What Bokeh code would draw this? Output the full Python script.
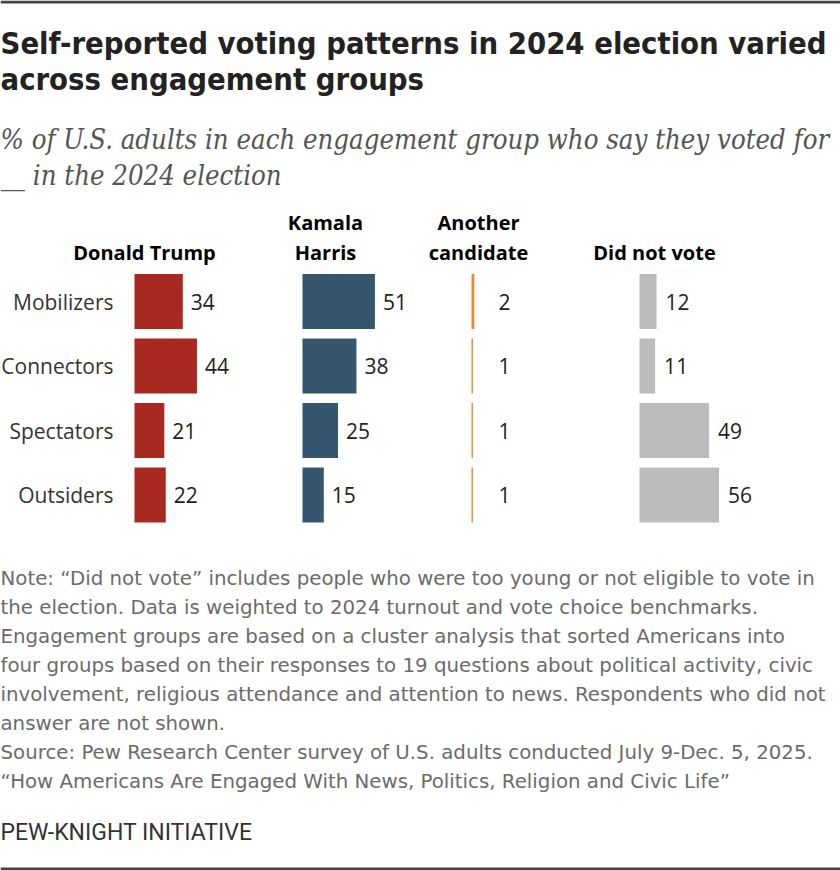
from bokeh.plotting import figure
from bokeh.models import Range1d, ColumnDataSource
from bokeh.core.properties import value
from bokeh.embed import file_html
from bokeh.resources import INLINE

# ---------------- data ----------------
groups = ["Mobilizers", "Connectors", "Spectators", "Outsiders"]
trump = [34, 44, 21, 22]
harris = [51, 38, 25, 15]
another = [2, 1, 1, 1]
did_not_vote = [12, 11, 49, 56]
series_headers = [["Donald Trump"], ["Kamala", "Harris"], ["Another", "candidate"], ["Did not vote"]]

title_lines = ["Self-reported voting patterns in 2024 election varied",
               "across engagement groups"]
subtitle_lines = ["% of U.S. adults in each engagement group who say they voted for",
                  "__ in the 2024 election"]
note_lines = [
    "Note: \u201cDid not vote\u201d includes people who were too young or not eligible to vote in",
    "the election. Data is weighted to 2024 turnout and vote choice benchmarks.",
    "Engagement groups are based on a cluster analysis that sorted Americans into",
    "four groups based on their responses to 19 questions about political activity, civic",
    "involvement, religious attendance and attention to news. Respondents who did not",
    "answer are not shown.",
    "Source: Pew Research Center survey of U.S. adults conducted July 9-Dec. 5, 2025.",
    "\u201cHow Americans Are Engaged With News, Politics, Religion and Civic Life\u201d",
]
credit = "PEW-KNIGHT INITIATIVE"

# ---------------- layout ----------------
W, H = 840, 870
SCALE = 1.42            # px per percentage point
ROW0, PITCH = 301, 64.5  # first row centre, row pitch (px)
BAR_H = 55 / PITCH

panels = [
    dict(name="trump", vals=trump, x0=134, color="#a8291f", label_off=8, fixed=False),
    dict(name="harris", vals=harris, x0=302, color="#36566f", label_off=8, fixed=False),
    dict(name="another", vals=another, x0=471, color="#e58b2c", label_off=27, fixed=True),
    dict(name="dnv", vals=did_not_vote, x0=639, color="#bbbcbe", label_off=9, fixed=False),
]
header_cx = [144, 325, 478, 654]

p = figure(width=W, height=H, output_backend="svg", toolbar_location=None,
           x_range=Range1d(0, W), y_range=Range1d(H, 0),
           min_border=0, outline_line_color=None,
           x_axis_location=None, y_axis_location=None,
           background_fill_color="white", border_fill_color="white")
p.xgrid.visible = False
p.ygrid.visible = False

p.extra_y_ranges = {"rows": Range1d(start=(H - ROW0) / PITCH, end=-ROW0 / PITCH)}
for pn in panels:
    p.extra_x_ranges[pn["name"]] = Range1d(start=-pn["x0"] / SCALE, end=(W - pn["x0"]) / SCALE)

rowpos = list(range(len(groups)))

BODY = value("Open Sans")
COND = value("DejaVu Sans Condensed")

for pn in panels:
    src = ColumnDataSource(dict(y=rowpos, v=pn["vals"], t=[str(v) for v in pn["vals"]],
                                zero=[0] * len(groups)))
    p.hbar(y="y", left=0, right="v", height=BAR_H, source=src, color=pn["color"],
           line_color=None, x_range_name=pn["name"], y_range_name="rows")
    p.text(x="zero" if pn["fixed"] else "v", y="y", text="t", source=src,
           x_offset=pn["label_off"], text_align="left", text_baseline="middle",
           text_font=BODY, text_font_size="21px", text_color="#222222",
           x_range_name=pn["name"], y_range_name="rows")

# row labels
lab_src = ColumnDataSource(dict(y=rowpos, t=groups, zero=[0] * len(groups)))
p.text(x="zero", y="y", text="t", source=lab_src, x_offset=-21,
       text_align="right", text_baseline="middle",
       text_font=BODY, text_font_size="21px", text_color="#333333",
       x_range_name="trump", y_range_name="rows")

# column headers
for cx, lines in zip(header_cx, series_headers):
    base = 252 - 30 * (len(lines) - 1)
    for i, ln in enumerate(lines):
        p.text(x=[cx], y=[base + 30 * i], text=[ln], text_align="center",
               text_baseline="middle", text_font=BODY, text_font_style="bold",
               text_font_size="20px", text_color="#000000")

# title
for i, ln in enumerate(title_lines):
    p.text(x=[0], y=[43 + 36 * i], text=[ln], text_align="left", text_baseline="middle",
           text_font=COND, text_font_style="bold", text_font_size="30.7px",
           text_color="#222222")

# subtitle
for i, ln in enumerate(subtitle_lines):
    p.text(x=[0], y=[139 + 36 * i], text=[ln], text_align="left", text_baseline="middle",
           text_font=value("DejaVu Serif Condensed"), text_font_style="italic",
           text_font_size="27.3px", text_color="#555555")

# notes
for i, ln in enumerate(note_lines):
    p.text(x=[0], y=[578 + 29 * i], text=[ln], text_align="left", text_baseline="middle",
           text_font=value("DejaVu Sans"), text_font_size="19.8px", text_color="#6b6b6b")

p.text(x=[0], y=[832], text=[credit], text_align="left", text_baseline="middle",
       text_font=value("Roboto"), text_font_size="23px", text_color="#333333")

# top and bottom rules
p.quad(left=[0, 0], right=[W, W], top=[0, H - 3], bottom=[3, H], color="#444444", line_color=None)

open("out.html", "w").write(file_html(p, INLINE))
